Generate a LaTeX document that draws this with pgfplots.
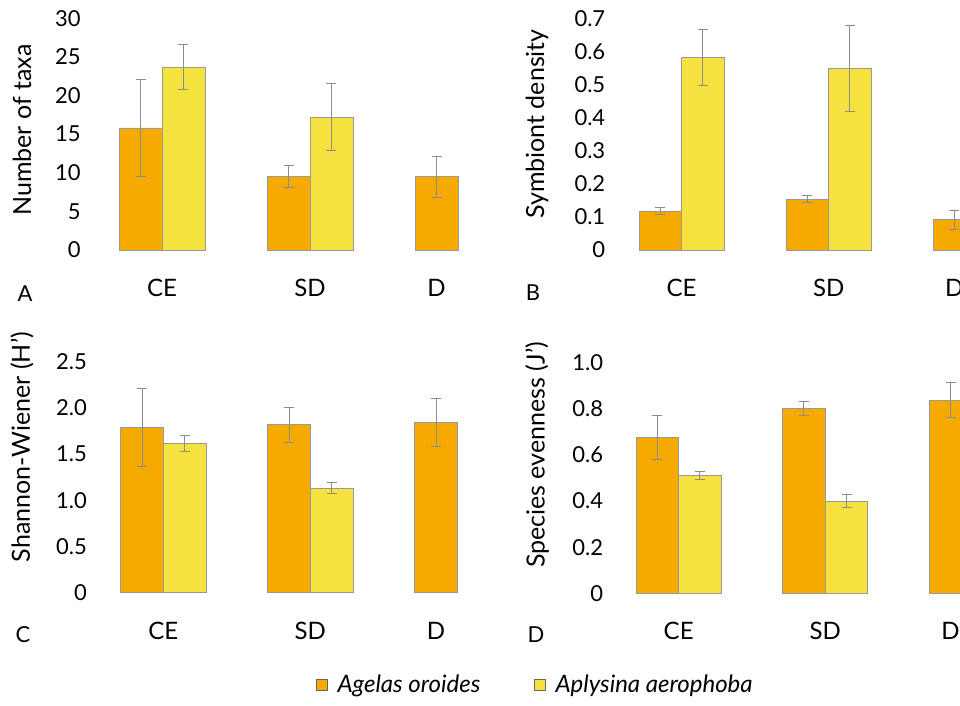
\documentclass[border=0pt]{standalone}
\usepackage{fontspec}
\setmainfont{Lato}
\usepackage{pgfplots}
\pgfplotsset{compat=1.18}
\definecolor{orA}{RGB}{246,170,0}
\definecolor{yeA}{RGB}{245,226,62}
\definecolor{errc}{RGB}{140,140,140}
\pgfplotsset{
 panel/.style={
   scale only axis, clip=false,
   xmin=-0.45, xmax=2.45, ymin=0,
   axis lines*=left, axis line style={draw=none},
   major tick length=0pt, tick style={draw=none},
   xtick={0,1,1.855}, xticklabels={CE,SD,D},
   xticklabel style={font=\fontsize{12}{14}\selectfont, anchor=center, yshift=-19pt},
   yticklabel style={font=\fontsize{11}{13}\selectfont},
   anchor=south west,
 },
 ser/.style={ybar, bar width=0.29, bar shift=0pt, fill=#1, draw=black!40, line width=0.4pt,
   error bars/.cd, y dir=both, y explicit,
   error bar style={errc, line width=0.5pt},
   error mark options={errc, line width=0.5pt, mark size=2.5pt, rotate=90}},
}
\begin{document}
\begin{tikzpicture}
\path[use as bounding box] (0pt,0pt) rectangle (480pt,353pt);
\clip (0pt,0pt) rectangle (480pt,353pt);

% Panel A
\begin{axis}[panel, at={(47.7pt,228pt)}, width=214.6pt, height=115.85pt,
  ymax=30, ytick={0,5,10,15,20,25,30}, yticklabels={0,5,10,15,20,25,30},
  yticklabel style={xshift=-3.8pt}]
\addplot[ser=orA] coordinates {(-0.145,15.8) +- (0,6.3) (0.855,9.5) +- (0,1.4) (1.855,9.5) +- (0,2.65)};
\addplot[ser=yeA] coordinates {(0.145,23.7) +- (0,2.9) (1.145,17.2) +- (0,4.35)};
\end{axis}

% Panel B
\begin{axis}[panel, at={(307.75pt,228pt)}, width=213.15pt, height=115.85pt,
  ymax=0.7, ytick={0,0.1,0.2,0.3,0.4,0.5,0.6,0.7}, yticklabels={0,0.1,0.2,0.3,0.4,0.5,0.6,0.7},
  yticklabel style={xshift=-1.6pt}]
\addplot[ser=orA] coordinates {(-0.145,0.118) +- (0,0.011) (0.855,0.154) +- (0,0.010) (1.855,0.091) +- (0,0.028)};
\addplot[ser=yeA] coordinates {(0.145,0.582) +- (0,0.084) (1.145,0.549) +- (0,0.13)};
\end{axis}

% Panel C
\begin{axis}[panel, at={(48.6pt,56.65pt)}, width=213.15pt, height=115.5pt,
  ymax=2.5, ytick={0,0.5,1,1.5,2,2.5}, yticklabels={0,0.5,1.0,1.5,2.0,2.5},
  yticklabel style={xshift=-1.6pt},
  legend style={at={(1.0305,-0.3996)}, anchor=center, draw=none, fill=none,
    legend columns=2, font=\itshape\fontsize{12}{14}\selectfont,
    /tikz/every odd column/.append style={column sep=3pt},
    /tikz/every even column/.append style={column sep=25pt}},
  legend image code/.code={\draw[#1, draw=black!60] (0pt,-2.6pt) rectangle (5.2pt,2.6pt);}]
\addplot[ser=orA] coordinates {(-0.145,1.786) +- (0,0.42) (0.855,1.818) +- (0,0.19) (1.855,1.847) +- (0,0.26)};
\addlegendentry{Agelas oroides}
\addplot[ser=yeA] coordinates {(0.145,1.617) +- (0,0.087) (1.145,1.13) +- (0,0.06)};
\addlegendentry{Aplysina aerophoba}
\end{axis}

% Panel D
\begin{axis}[panel, at={(306.35pt,56.35pt)}, width=212.55pt, height=115.3pt,
  ymax=1.0, ytick={0,0.2,0.4,0.6,0.8,1.0}, yticklabels={0,0.2,0.4,0.6,0.8,1.0},
  yticklabel style={xshift=-1.3pt}]
\addplot[ser=orA] coordinates {(-0.145,0.675) +- (0,0.094) (0.855,0.802) +- (0,0.029) (1.855,0.837) +- (0,0.075)};
\addplot[ser=yeA] coordinates {(0.145,0.51) +- (0,0.018) (1.145,0.40) +- (0,0.027)};
\end{axis}

% axis titles
\node[rotate=90, font=\fontsize{12.5}{14}\selectfont] at (11pt,288pt) {Number of taxa};
\node[rotate=90, font=\fontsize{12.5}{14}\selectfont] at (268.5pt,291pt) {Symbiont density};
\node[rotate=90, font=\fontsize{12.5}{14}\selectfont] at (11pt,129.5pt) {Shannon-Wiener (H')};
\node[rotate=90, font=\fontsize{12.5}{14}\selectfont] at (268.5pt,125.5pt) {Species evenness (J')};
% panel letters
\node[font=\fontsize{11}{13}\selectfont] at (12.5pt,206pt) {A};
\node[font=\fontsize{11}{13}\selectfont] at (266.5pt,206.5pt) {B};
\node[font=\fontsize{11}{13}\selectfont] at (11.5pt,35.5pt) {C};
\node[font=\fontsize{11}{13}\selectfont] at (268pt,35.5pt) {D};
\end{tikzpicture}
\end{document}
